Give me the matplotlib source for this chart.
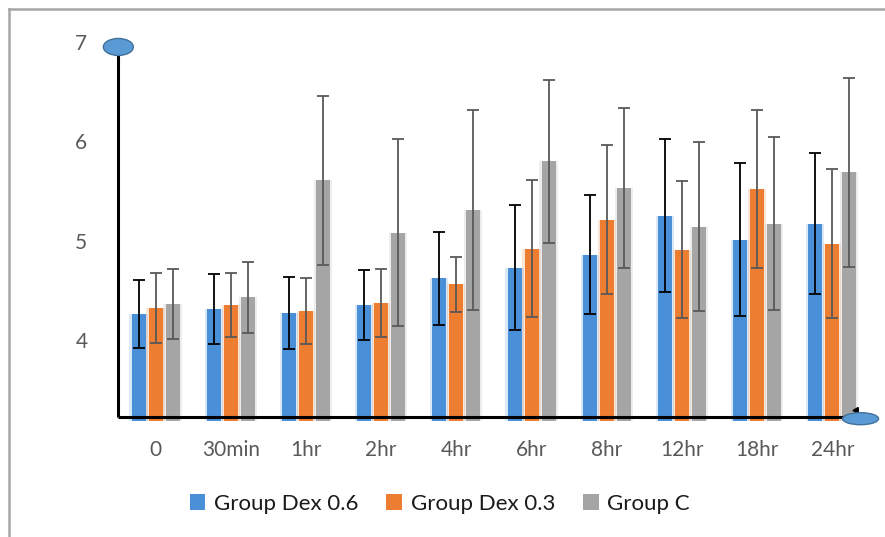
import numpy as np
import matplotlib
matplotlib.use('Agg')
import matplotlib.pyplot as plt
from matplotlib.patches import Ellipse, Patch

plt.rcParams['font.family'] = ['Lato', 'DejaVu Sans']

# time points
labels = ['0', '30min', '1hr', '2hr', '4hr', '6hr', '8hr', '12hr', '18hr', '24hr']

# means
dex06 = [4.26, 4.31, 4.27, 4.35, 4.62, 4.73, 4.86, 5.25, 5.01, 5.17]
dex03 = [4.32, 4.35, 4.29, 4.37, 4.56, 4.92, 5.21, 4.91, 5.52, 4.97]
grp_c = [4.36, 4.43, 5.61, 5.08, 5.31, 5.80, 5.53, 5.14, 5.17, 5.69]

# SD
dex06_sd = [0.34, 0.35, 0.36, 0.35, 0.47, 0.63, 0.60, 0.77, 0.77, 0.71]
dex03_sd = [0.35, 0.32, 0.33, 0.34, 0.28, 0.69, 0.75, 0.69, 0.80, 0.75]
grp_c_sd = [0.35, 0.36, 0.85, 0.94, 1.01, 0.82, 0.81, 0.85, 0.87, 0.95]

series = [
    ('Group Dex 0.6', dex06, dex06_sd, '#4a90d9', 'black'),
    ('Group Dex 0.3', dex03, dex03_sd, '#ed7d31', '#595959'),
    ('Group C', grp_c, grp_c_sd, '#a5a5a5', '#595959'),
]

fig = plt.figure(figsize=(8.85, 5.37), dpi=100)
ax = fig.add_axes([0.1333, 0.224, 0.8497, 0.6978])

ymin, ymax = 3.228, 7.0
x = np.arange(len(labels))
w = 0.186
offsets = [-0.226, 0.0, 0.226]

for (name, vals, sd, col, ecol), off in zip(series, offsets):
    bot = ymin - 0.04
    h = np.array(vals) - bot
    # soft blurred edge
    ax.bar(x + off, h, w * 1.3, bottom=bot, color=col, alpha=0.2,
           linewidth=0, clip_on=False, zorder=2)
    ax.bar(x + off, h, w, bottom=bot, color=col, linewidth=0,
           clip_on=False, zorder=3)
    ax.errorbar(x + off, vals, yerr=sd, fmt='none', ecolor=ecol,
                elinewidth=1.3, capsize=4.3, capthick=1.3, zorder=4)

ax.set_xlim(-0.5, 9.5)
ax.set_ylim(ymin, ymax)
for s in ax.spines.values():
    s.set_visible(False)

# axis lines
ax.plot([-0.5, 9.375], [ymin, ymin], color='black', lw=2.2,
        clip_on=False, zorder=5, solid_capstyle='butt')
ax.plot([-0.5, -0.5], [ymin, 6.95], color='black', lw=2.2,
        clip_on=False, zorder=5, solid_capstyle='butt')
ax.plot([9.31], [ymin + 0.07], marker=(3, 0, -30), color='black',
        markersize=5, clip_on=False, zorder=5)

# ellipse ends
ax.add_patch(Ellipse((9.375, ymin - 0.02), 36 / 75.2, 12 / 99.33,
                     facecolor='#5b9bd5', edgecolor='#41719c', lw=1,
                     clip_on=False, zorder=6))
ax.add_patch(Ellipse((-0.495, 6.95), 30 / 75.2, 17 / 99.33,
                     facecolor='#5b9bd5', edgecolor='#41719c', lw=1,
                     clip_on=False, zorder=6))

ax.set_xticks(x)
ax.set_xticklabels(labels)
ax.set_yticks([4, 5, 6, 7])
ax.tick_params(axis='both', length=0, colors='#595959', labelsize=15)
ax.tick_params(axis='x', pad=17)
ax.tick_params(axis='y', pad=22)

handles = [Patch(facecolor=c, label=n) for n, _, _, c, _ in series]
fig.legend(handles=handles, loc='center', bbox_to_anchor=(0.497, 0.0615),
           ncol=3, frameon=False, fontsize=16, handlelength=0.7,
           handleheight=0.7, handletextpad=0.4, columnspacing=1.25,
           labelcolor='#1a1a1a')

# chart border
fig.add_artist(plt.Line2D([9 / 885, 9 / 885], [0, 1 - 9 / 537],
                          color='#a6a6a6', lw=1.8))
fig.add_artist(plt.Line2D([9 / 885, 1], [1 - 9 / 537, 1 - 9 / 537],
                          color='#a6a6a6', lw=1.8))

fig.savefig('out.png', dpi=100)
